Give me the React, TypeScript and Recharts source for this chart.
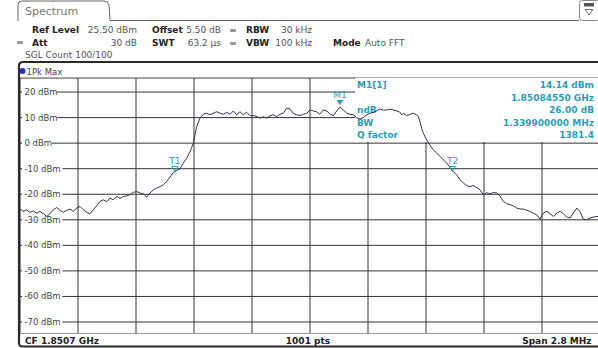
import React from "react";
import {
  LineChart,
  Line,
  XAxis,
  YAxis,
  CartesianGrid,
  ReferenceArea,
  ReferenceDot,
} from "recharts";

// sweep: offset from CF 1.8507 GHz in kHz, trace level in dBm
const freqOffsetKHz = [
  -1400, -1384, -1368, -1352, -1336, -1319, -1303, -1288, -1271, -1255,
  -1239, -1223, -1207, -1191, -1175, -1159, -1143, -1126, -1110, -1094,
  -1078, -1062, -1046, -1030, -1014, -998, -981, -966, -950, -933,
  -917, -901, -885, -869, -853, -837, -821, -805, -788, -772,
  -756, -740, -724, -708, -692, -676, -660, -643, -628, -612,
  -595, -579, -563, -547, -531, -515, -499, -483, -467, -450,
  -434, -419, -402, -386, -370, -354, -338, -322, -306, -290,
  -274, -257, -241, -225, -209, -193, -177, -161, -145, -129,
  -112, -97, -81, -64, -48, -32, -16, 0, 16, 32,
  48, 64, 81, 97, 113, 129, 145, 161, 177, 193,
  209, 226, 241, 257, 274, 290, 306, 322, 338, 354,
  370, 386, 402, 419, 435, 443, 450, 467, 483, 499,
  515, 523, 531, 539, 547, 563, 579, 595, 612, 628,
  643, 660, 676, 692, 708, 724, 740, 756, 772, 788,
  805, 821, 837, 853, 869, 885, 901, 917, 933, 950,
  966, 981, 998, 1014, 1030, 1046, 1062, 1078, 1094, 1110,
  1126, 1143, 1159, 1175, 1191, 1207, 1223, 1239, 1255, 1271,
  1288, 1303, 1319, 1336, 1352, 1368, 1384, 1400,
];

const levelDbm = [
  -25.8, -26.7, -26.1, -27.1, -26.5, -27.4, -26.7, -27.6, -28.7, -27.6,
  -26.1, -25.2, -26.3, -27.1, -26.3, -25.8, -26.7, -25.4, -24.8, -26.1,
  -27.1, -27.6, -26.1, -24.5, -22.8, -22.2, -22.9, -21.5, -22.2, -20.9,
  -21.6, -20.9, -20.6, -20.2, -19.3, -18.9, -19.5, -19.8, -21.1, -19.5,
  -18.3, -17.6, -17.0, -16.3, -15.0, -13.3, -11.5, -10.7, -10.2, -7.8,
  -5.9, -3.3, 0.0, 6.5, 9.8, 11.3, 11.7, 11.1, 11.7, 12.3,
  11.7, 11.3, 12.1, 11.3, 12.6, 11.1, 12.3, 11.1, 12.1, 10.8,
  10.8, 10.5, 9.8, 10.3, 9.8, 10.7, 11.1, 10.4, 11.3, 11.7,
  13.7, 13.4, 11.7, 11.1, 10.8, 11.3, 11.7, 13.0, 12.6, 12.3,
  11.3, 13.0, 12.6, 11.3, 10.8, 12.6, 14.14, 13.0, 11.7, 11.3,
  11.1, 10.0, 9.5, 10.0, 11.1, 11.7, 12.1, 12.6, 13.4, 12.9,
  13.0, 13.3, 13.0, 12.6, 12.1, 11.1, 11.7, 10.8, 11.3, 11.7,
  11.1, 10.4, 8.4, 5.9, 3.9, 1.3, -0.7, -2.6, -3.9, -5.2,
  -6.5, -7.8, -9.5, -11.1, -12.4, -14.3, -15.6, -16.6, -17.0, -16.6,
  -17.4, -18.3, -20.2, -19.4, -19.8, -19.3, -19.5, -20.6, -22.8, -23.7,
  -24.1, -24.5, -25.4, -25.8, -25.8, -26.3, -26.7, -27.4, -28.0, -29.7,
  -27.4, -26.7, -27.6, -28.7, -27.4, -26.7, -27.6, -28.9, -29.3, -27.4,
  -25.4, -26.7, -29.7, -30.0, -29.3, -28.9, -28.7, -28.8,
];

const yTicks = [20, 10, 0, -10, -20, -30, -40, -50, -60, -70];
const xTicks = [-1400, -1120, -840, -560, -280, 0, 280, 560, 840, 1120, 1400];

const peakMarker = { label: "M1", f: 144.55, level: 14.14 };
const ndbMarkers = [
  { label: "T1", f: -652, level: -11.86 },
  { label: "T2", f: 688, level: -11.86 },
];

const infoLabels = ["M1[1]", "", "ndB", "BW", "Q factor"];
const infoValues = ["14.14 dBm", "1.85084550 GHz", "26.00 dB", "1.339900000 MHz", "1381.4"];

const data = freqOffsetKHz.map((f, i) => ({ f, level: levelDbm[i] }));

const FONT = "DejaVu Sans, Verdana, sans-serif";
const TEAL = "#2c9db5";
const CW = 600;
const CH = 348;
const margin = { top: 78, right: 0, bottom: 14.5, left: 20 };
const X_DOMAIN: [number, number] = [-1400, 1400];
const Y_DOMAIN: [number, number] = [-74.5, 25.5];

const YTick = (props: any) => {
  const { x, y, payload } = props;
  const label = `${payload.value} dBm`;
  const w = label.length * 5.35;
  return (
    <g>
      <rect x={x + 2} y={y - 5} width={w + 3} height={10} fill="#fff" />
      <text x={x + 4.5} y={y + 3} fontSize={8.5} fill="#444" fontFamily={FONT}>
        {label}
      </text>
    </g>
  );
};

const PeakShape = (props: any) => {
  const { cx, cy } = props;
  return (
    <g>
      <path d={`M${cx - 3.5},${cy - 7} L${cx + 3.5},${cy - 7} L${cx},${cy - 2} Z`} fill={TEAL} />
      <text x={cx} y={cy - 9} textAnchor="middle" fontSize={9} fill={TEAL} fontFamily={FONT}>
        {peakMarker.label}
      </text>
    </g>
  );
};

const makeNdbShape = (label: string) => (props: any) => {
  const { cx, cy } = props;
  return (
    <g>
      <path
        d={`M${cx - 3},${cy - 7} L${cx + 3},${cy - 7} L${cx},${cy - 2} Z`}
        fill="none"
        stroke={TEAL}
        strokeWidth={1}
      />
      <text x={cx} y={cy - 9} textAnchor="middle" fontSize={9} fill={TEAL} fontFamily={FONT}>
        {label}
      </text>
    </g>
  );
};

const Header = () => (
  <svg
    width={598}
    height={348}
    style={{ position: "absolute", left: 0, top: 0, pointerEvents: "none" }}
    fontFamily={FONT}
  >
    {/* tab */}
    <path d="M18,21 V5 Q18,1 22,1 H104 Q108,1 109,5 L110,20.5 H579" fill="none" stroke="#666" strokeWidth={1} />
    <text x={25} y={15} fontSize={11} fill="#777">Spectrum</text>
    {/* icon */}
    <rect x={579.5} y={0.5} width={20} height={20} rx={3} fill="#fff" stroke="#888" />
    <rect x={584} y={3} width={10} height={3.5} fill="#555" />
    <path d="M585,9.5 L593,9.5 L589,15 Z" fill="none" stroke="#555" strokeWidth={0.8} />

    {/* row 1 */}
    <text x={32} y={33} fontSize={9} fontWeight="bold" fill="#222">Ref Level</text>
    <text x={137} y={33} fontSize={9} fill="#555" textAnchor="end">25.50 dBm</text>
    <text x={152} y={33} fontSize={9} fontWeight="bold" fill="#222">Offset</text>
    <text x={221} y={33} fontSize={9} fill="#555" textAnchor="end">5.50 dB</text>
    <rect x={230} y={29} width={6} height={3} rx={1} fill="#999" />
    <text x={246} y={33} fontSize={9} fontWeight="bold" fill="#222">RBW</text>
    <text x={312} y={33} fontSize={9} fill="#555" textAnchor="end">30 kHz</text>
    {/* row 2 */}
    <rect x={17} y={41} width={6} height={3} rx={1} fill="#999" />
    <text x={32} y={46} fontSize={9} fontWeight="bold" fill="#222">Att</text>
    <text x={137} y={46} fontSize={9} fill="#555" textAnchor="end">30 dB</text>
    <text x={152} y={46} fontSize={9} fontWeight="bold" fill="#222">SWT</text>
    <text x={221} y={46} fontSize={9} fill="#555" textAnchor="end">63.2 µs</text>
    <rect x={230} y={42} width={6} height={3} rx={1} fill="#999" />
    <text x={246} y={46} fontSize={9} fontWeight="bold" fill="#222">VBW</text>
    <text x={312} y={46} fontSize={9} fill="#555" textAnchor="end">100 kHz</text>
    <text x={333} y={46} fontSize={9} fontWeight="bold" fill="#222">Mode</text>
    <text x={365} y={46} fontSize={9} fill="#555">Auto FFT</text>
    {/* row 3 */}
    <text x={25} y={58} fontSize={9} fill="#555">SGL Count 100/100</text>

    {/* window frame */}
    <path d="M19,344 V66 Q19,62 23,62 H598" fill="none" stroke="#2a2a2a" strokeWidth={2.2} />
    <path d="M19,343 Q19,346.5 23,346.5 H598" fill="none" stroke="#2a2a2a" strokeWidth={2} />
    <circle cx={22.5} cy={71} r={3} fill="#2b2bc8" />
    <text x={26.5} y={74.5} fontSize={8.5} fill="#444">1Pk Max</text>
    <line x1={20} y1={77.5} x2={598} y2={77.5} stroke="#aaa" strokeWidth={1} />
    <line x1={20} y1={333.5} x2={598} y2={333.5} stroke="#999" strokeWidth={1} />

    {/* marker info */}
    {infoLabels.map((t, i) => (
      <text key={"l" + i} x={357} y={88 + i * 12.5} fontSize={9} fontWeight="bold" fill={TEAL}>
        {t}
      </text>
    ))}
    {infoValues.map((t, i) => (
      <text key={"v" + i} x={594} y={88 + i * 12.5} fontSize={9} fontWeight="bold" fill={TEAL} textAnchor="end">
        {t}
      </text>
    ))}

    {/* footer */}
    <text x={25} y={344} fontSize={9} fontWeight="bold" fill="#222">CF 1.8507 GHz</text>
    <text x={308} y={344} fontSize={9} fontWeight="bold" fill="#222" textAnchor="middle">1001 pts</text>
    <text x={591.5} y={344} fontSize={9} fontWeight="bold" fill="#222" textAnchor="end">Span 2.8 MHz</text>
  </svg>
);

export default function App() {
  return (
    <div
      style={{
        position: "fixed",
        left: 0,
        top: 0,
        width: 598,
        height: 348,
        overflow: "hidden",
        background: "#fff",
        fontFamily: FONT,
      }}
    >
      {/* grid layer */}
      <div style={{ position: "absolute", left: 0, top: 0 }}>
        <LineChart width={CW} height={CH} data={data} margin={margin}>
          <CartesianGrid stroke="#333" strokeWidth={1} />
          <XAxis type="number" dataKey="f" domain={X_DOMAIN} ticks={xTicks} hide />
          <YAxis
            type="number"
            domain={Y_DOMAIN}
            ticks={yTicks}
            mirror
            axisLine={false}
            tickLine={false}
            tickSize={0}
            tickMargin={0}
            tick={<YTick />}
          />
          <ReferenceArea x1={218} x2={1400} y1={0.5} y2={25.5} fill="#fff" fillOpacity={1} stroke="none" />
          <Line dataKey="level" stroke="none" dot={false} isAnimationActive={false} />
        </LineChart>
      </div>
      <Header />
      {/* trace layer */}
      <div style={{ position: "absolute", left: 0, top: 0 }}>
        <LineChart width={CW} height={CH} data={data} margin={margin}>
          <XAxis type="number" dataKey="f" domain={X_DOMAIN} hide />
          <YAxis type="number" domain={Y_DOMAIN} hide />
          <Line
            dataKey="level"
            type="linear"
            stroke="#34344f"
            strokeWidth={1}
            dot={false}
            isAnimationActive={false}
          />
          <ReferenceDot x={peakMarker.f} y={peakMarker.level} shape={<PeakShape />} />
          {ndbMarkers.map((m) => (
            <ReferenceDot key={m.label} x={m.f} y={m.level} shape={makeNdbShape(m.label)} />
          ))}
        </LineChart>
      </div>
    </div>
  );
}
